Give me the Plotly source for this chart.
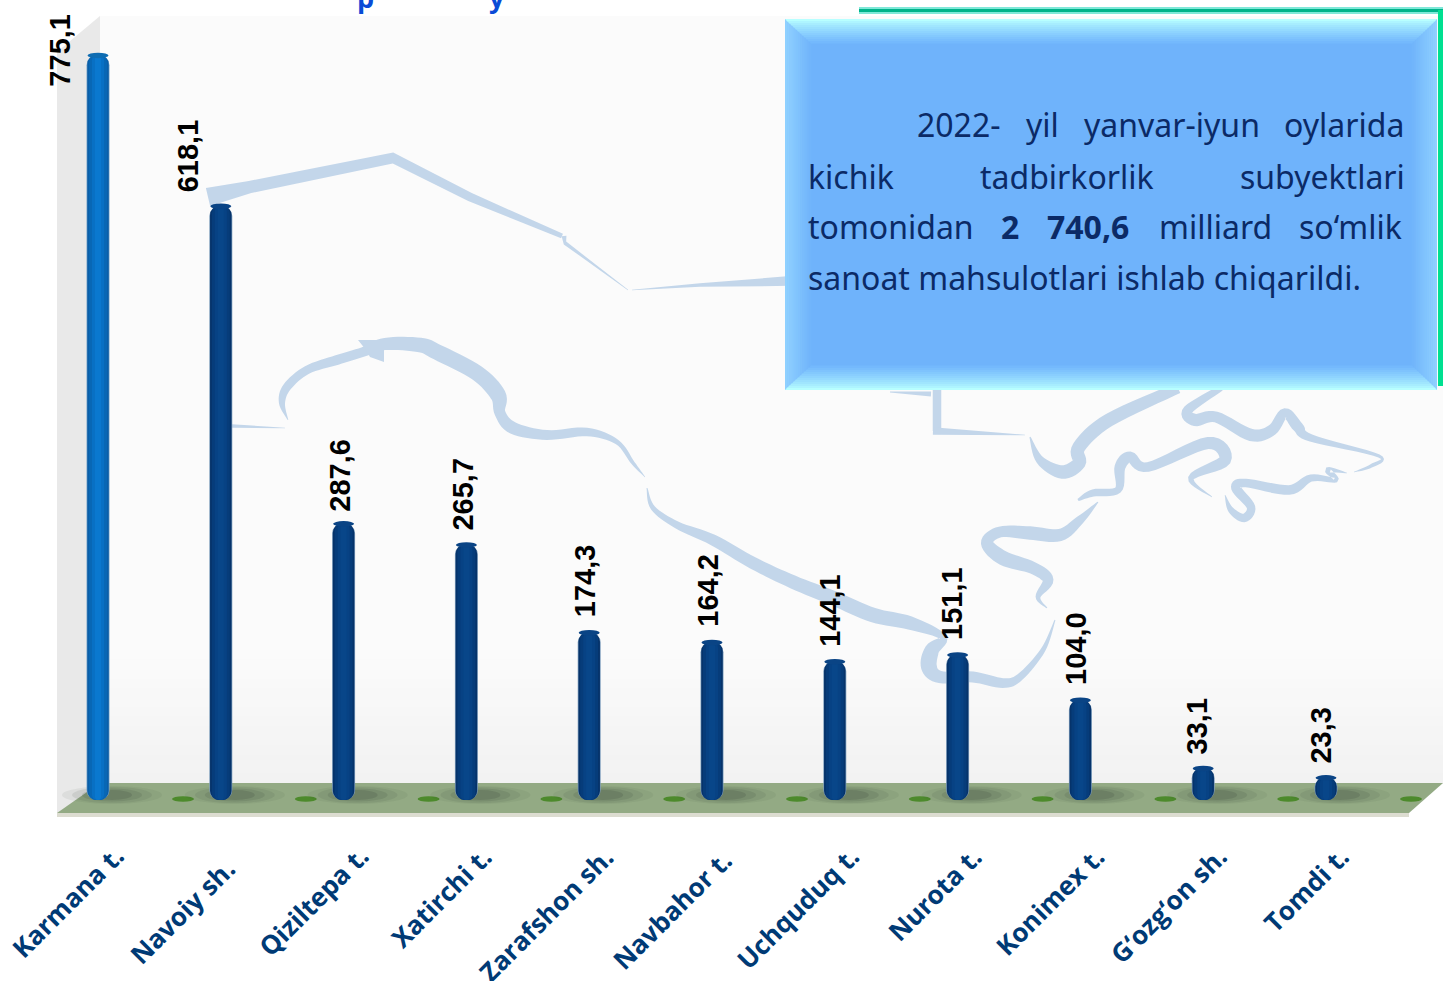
import plotly.graph_objects as go

W, H = 1443, 981

# ---- data ----
categories = ["Karmana t.", "Navoiy sh.", "Qiziltepa t.", "Xatirchi t.", "Zarafshon sh.", "Navbahor t.",
              "Uchquduq t.", "Nurota t.", "Konimex t.", "G‘ozg‘on sh.", "Tomdi t."]
values = [775.1, 618.1, 287.6, 265.7, 174.3, 164.2, 144.1, 151.1, 104.0, 33.1, 23.3]

# ---- label placement (pixels, not data) ----
value_xshift = [-38, -33, -3, -3, -4, -4, -5, -5, -5, -6, -5]
value_yshift = [-34, 12, 10, 12, 13, 13, 13, 13, 13, 12, 12]
cat_end_x = [134, 246, 379, 502, 624, 742, 869, 992, 1115, 1237, 1360]
cat_top_y = [836, 848, 836, 836, 836, 840, 836, 836, 836, 836, 836]

BAR0, STEP = 98.0, 122.8
BASE_PX, PX_PER_UNIT = 800.0, 0.961

def px(x): return x / W
def py(y): return 1 - y / H

shapes, annotations = [], []

def poly(points, color, layer="below", opacity=1):
    d = "M " + " L ".join(f"{px(x):.5f} {py(y):.5f}" for x, y in points) + " Z"
    shapes.append(dict(type="path", path=d, xref="paper", yref="paper", fillcolor=color,
                       line=dict(width=0), layer=layer, opacity=opacity))

def rect(x0, y0, x1, y1, color, layer="below", opacity=1):
    poly([(x0, y0), (x1, y0), (x1, y1), (x0, y1)], color, layer, opacity)

def ell(cx, cy, rx, ry, color, layer="below", opacity=1):
    shapes.append(dict(type="circle", xref="paper", yref="paper", x0=px(cx - rx), x1=px(cx + rx),
                       y0=py(cy + ry), y1=py(cy - ry), fillcolor=color, line=dict(width=0),
                       layer=layer, opacity=opacity))

def lerp_hex(a, b, t):
    ca = [int(a[i:i + 2], 16) for i in (1, 3, 5)]
    cb = [int(b[i:i + 2], 16) for i in (1, 3, 5)]
    return "#" + "".join(f"{round(p + (q - p) * t):02x}" for p, q in zip(ca, cb))

def ribbon(pts, color="#c3d6ea", smooth=True, n=8, gain=1.22):
    P = [pts[0]] + list(pts) + [pts[-1]]
    out = []
    if smooth:
        for i in range(1, len(P) - 2):
            p0, p1, p2, p3 = P[i - 1], P[i], P[i + 1], P[i + 2]
            for k in range(n):
                t = k / n
                out.append(tuple(
                    0.5 * (2 * p1[j] + (p2[j] - p0[j]) * t + (2 * p0[j] - 5 * p1[j] + 4 * p2[j] - p3[j]) * t * t
                           + (3 * p1[j] - p0[j] - 3 * p2[j] + p3[j]) * t ** 3) for j in range(3)))
        out.append(tuple(pts[-1]))
    else:
        out = [tuple(p) for p in pts]
    L, R = [], []
    for i, (x, y, w) in enumerate(out):
        a = out[max(i - 1, 0)]
        b = out[min(i + 1, len(out) - 1)]
        dx, dy = b[0] - a[0], b[1] - a[1]
        m = (dx * dx + dy * dy) ** 0.5 or 1
        nx, ny = -dy / m, dx / m
        hw = max(w * gain, 0.3) / 2
        L.append((x + nx * hw, y + ny * hw))
        R.append((x - nx * hw, y - ny * hw))
    poly(L + R[::-1], color)

# ---- background walls ----
rect(100, 16, W, 783, "#fbfbfb")
N = 14
for i in range(N):
    y0 = 650 + i * (133 / N)
    rect(100, y0, W, y0 + 133 / N + 0.5, lerp_hex("#fbfbfb", "#f2f2f2", i / (N - 1)))
poly([(57, 52), (100, 16), (100, 783), (57, 815)], "#e9e9e9")

# ---- map silhouette behind the bars ----
ribbon([(208, 197, 15), (250, 187, 10), (393, 158, 9), (470, 197, 7), (562, 236, 4)], smooth=False)
ribbon([(564, 236, 4), (565, 243, 3), (628, 290, 0.4)], smooth=False)
ribbon([(632, 290, 0.4), (700, 285, 3), (790, 281, 8)], smooth=False)
ribbon([(232, 426, 3), (285, 428, 0.5)], smooth=False)
ribbon([(288, 420, 0.5), (282, 403, 5), (287, 387, 7), (307, 370, 7), (337, 360, 8), (363, 352, 8),
        (385, 344, 10), (420, 345, 12), (437, 352, 13), (477, 373, 13), (498, 395, 13), (500, 413, 9),
        (513, 428, 10), (547, 435, 8), (587, 432, 7), (617, 442, 4), (633, 463, 3), (645, 477, 0.4)])
poly([(358, 340), (384, 340), (384, 362), (370, 357), (366, 350)], "#c3d6ea")
ribbon([(647, 488, 0.8), (653, 508, 4), (677, 525, 6), (713, 540, 9), (753, 563, 10), (793, 582, 11),
        (833, 598, 12), (873, 615, 12), (910, 623, 11), (943, 637, 6), (932, 650, 12), (929, 667, 13),
        (940, 677, 10), (973, 677, 9), (1003, 683, 8), (1020, 677, 6), (1043, 650, 4), (1055, 620, 0.8)])
ribbon([(1047, 608, 0.8), (1038, 597, 4), (1048, 580, 9), (1033, 568, 10), (1003, 558, 12), (987, 543, 10),
        (1000, 532, 9), (1030, 533, 11), (1060, 535, 10), (1080, 520, 7), (1098, 502, 0.8)])
ribbon([(890, 392, 0.8), (931, 394, 4)], smooth=False)
ribbon([(937, 390, 7), (937, 431, 7)], smooth=False)
ribbon([(933, 431, 6), (1025, 435, 0.5)], smooth=False)
ribbon([(1030, 437, 1), (1040, 460, 7), (1062, 472, 11), (1079, 463, 11), (1079, 447, 11), (1109, 420, 11), (1178, 388, 9)])
ribbon([(1221, 388, 5), (1188, 410, 8), (1195, 420, 10), (1216, 417, 9), (1251, 435, 10), (1272, 430, 9),
        (1285, 413, 8), (1298, 427, 9), (1311, 438, 6), (1379, 456, 2.5), (1371, 466, 3), (1354, 472, 0.5)])
ribbon([(1347, 473, 0.5), (1328, 470, 5), (1336, 480, 4), (1311, 478, 6), (1289, 490, 8), (1246, 483, 7),
        (1236, 488, 8), (1251, 507, 7), (1244, 518, 7), (1231, 510, 5), (1225, 495, 0.5)])
ribbon([(1212, 497, 0.5), (1191, 478, 5), (1225, 460, 10), (1208, 443, 10), (1148, 467, 8), (1130, 457, 9),
        (1120, 467, 9), (1118, 490, 6), (1093, 493, 6), (1078, 500, 2)])

# ---- floor ----
poly([(57, 813), (100, 783), (W, 783), (1409, 813)], "#93aa84")
rect(57, 813, 1409, 817, "#dcdcd0")
for i in range(len(categories)):
    cx = BAR0 + STEP * i
    for rx, ry, op in [(50, 9, .07), (40, 8, .10), (30, 6.5, .14), (20, 5, .18)]:
        ell(cx + 14, 795, rx, ry, "#3a4437", opacity=op)
    ell(cx + 85, 799, 11, 2.8, "#4d8a2c")

# ---- value-anchored caps of the cylinders ----
for i, (c, v) in enumerate(zip(categories, values)):
    shapes.append(dict(type="circle", xref="x", yref="y", xsizemode="pixel", ysizemode="pixel",
                       xanchor=i, yanchor=v, x0=-10.5, x1=10.5, y0=-3, y1=2.5,
                       fillcolor="#0e6cb2" if i == 0 else "#0a4485", line=dict(width=0), layer="above"))

# ---- clipped heading fragments on the top edge ----
for ch, x in [("p", 365), ("y", 497)]:
    annotations.append(dict(text=f"<b>{ch}</b>", xref="paper", yref="paper", x=px(x), y=py(-2.5), yanchor="middle",
                            xanchor="center", showarrow=False,
                            font=dict(family="Open Sans", size=27, color="#0a4bd6")))

# ---- green frame & bevelled note box ----
rect(859, 7, 1443, 14, "#7fe8d8", layer="above")
rect(859, 9, 1443, 12, "#00b38a", layer="above")
rect(1438, 10, 1443, 386, "#00e090", layer="above")
BX0, BX1, BY0, BY1, B1, B2, BT = 785, 1437, 19, 390, 26, 25, 24
rect(BX0, BY0, BX1, BY1, "#6fb3fb", layer="above")
steps = 12
for i in range(steps):
    t0, t1 = i / steps, (i + 1) / steps
    c = lerp_hex("#8fd0ff", "#71b5fb", i / (steps - 1))
    poly([(BX0 + B1 * t0, BY0 + BT * t0), (BX0 + B1 * t1 + .5, BY0 + BT * t1),
          (BX0 + B1 * t1 + .5, BY1 - BT * t1), (BX0 + B1 * t0, BY1 - BT * t0)], c, layer="above")
    poly([(BX1 - B2 * t0, BY0 + BT * t0), (BX1 - B2 * t1 - .5, BY0 + BT * t1),
          (BX1 - B2 * t1 - .5, BY1 - BT * t1), (BX1 - B2 * t0, BY1 - BT * t0)], c, layer="above")
for i in range(steps):
    t0, t1 = i / steps, (i + 1) / steps
    c = lerp_hex("#b8ffff", "#74b9fd", (i / (steps - 1)) ** 0.8)
    poly([(BX0 + B1 * t0, BY0 + BT * t0), (BX1 - B2 * t0, BY0 + BT * t0),
          (BX1 - B2 * t1, BY0 + BT * t1 + .5), (BX0 + B1 * t1, BY0 + BT * t1 + .5)], c, layer="above")
    poly([(BX0 + B1 * t0, BY1 - BT * t0), (BX1 - B2 * t0, BY1 - BT * t0),
          (BX1 - B2 * t1, BY1 - BT * t1 - .5), (BX0 + B1 * t1, BY1 - BT * t1 - .5)], c, layer="above")

note_words = [
    ("2022-", 915, 125, False), ("yil", 1024, 125, False), ("yanvar-iyun", 1082, 125, False), ("oylarida", 1282, 125, False),
    ("kichik", 806, 176, False), ("tadbirkorlik", 978, 176, False), ("subyektlari", 1238, 176, False),
    ("tomonidan", 806, 226, False), ("2", 999, 226, True), ("740,6", 1045, 226, True),
    ("milliard", 1157, 226, False), ("so‘mlik", 1297, 226, False),
    ("sanoat mahsulotlari ishlab chiqarildi.", 806, 277, False),
]
for t, x, y, b in note_words:
    annotations.append(dict(text=f"<b>{t}</b>" if b else t, xref="paper", yref="paper", x=px(x), y=py(y),
                            xanchor="left", yanchor="middle", showarrow=False,
                            font=dict(family="Noto Sans", size=32, color="#0b2a66")))

# ---- value labels and category labels ----
for i, (c, v) in enumerate(zip(categories, values)):
    annotations.append(dict(text=f"<b>{v:.1f}</b>".replace(".", ","), x=c, y=v, xref="x", yref="y",
                            xshift=value_xshift[i], yshift=value_yshift[i], textangle=-90,
                            xanchor="center", yanchor="bottom", showarrow=False,
                            font=dict(family="Liberation Sans", size=29, color="#000000")))
    annotations.append(dict(text=f"<b>{c}</b>", xref="paper", yref="paper", x=px(cat_end_x[i]), y=py(cat_top_y[i]),
                            textangle=-45, xanchor="right", yanchor="top", showarrow=False,
                            font=dict(family="Open Sans", size=26, color="#003a75")))

# ---- cylinders: concentric bars drawn downward from each value so the foot is rounded ----
navy = ["#7d9dbc", "#06336a", "#063c7a", "#074284", "#084689"]
blue = ["#7da8cb", "#0a5ea8", "#0867b5", "#0870c4", "#0a78cf"]
widths_px = [23, 21.5, 18, 12, 6]
radii = [10, 9, 7, 5, 3]

fig = go.Figure()
for k, w in enumerate(widths_px):
    fig.add_trace(go.Bar(
        x=categories, y=[-v for v in values], base=values, width=w / STEP,
        marker=dict(color=[blue[k]] + [navy[k]] * (len(values) - 1), line=dict(width=0), cornerradius=radii[k]),
        showlegend=False, hoverinfo="skip"))

fig.update_layout(
    width=W, height=H, margin=dict(l=0, r=0, t=0, b=0), barmode="overlay", showlegend=False,
    paper_bgcolor="#ffffff", plot_bgcolor="rgba(0,0,0,0)",
    xaxis=dict(type="category", categoryorder="array", categoryarray=categories,
               range=[-BAR0 / STEP, (W - BAR0) / STEP], visible=False),
    yaxis=dict(range=[-(H - BASE_PX) / PX_PER_UNIT, BASE_PX / PX_PER_UNIT], visible=False),
    shapes=shapes, annotations=annotations,
)
fig.write_html("out.html", post_script="document.body.style.margin='0';document.body.style.overflow='hidden';",
               config=dict(displayModeBar=False))
